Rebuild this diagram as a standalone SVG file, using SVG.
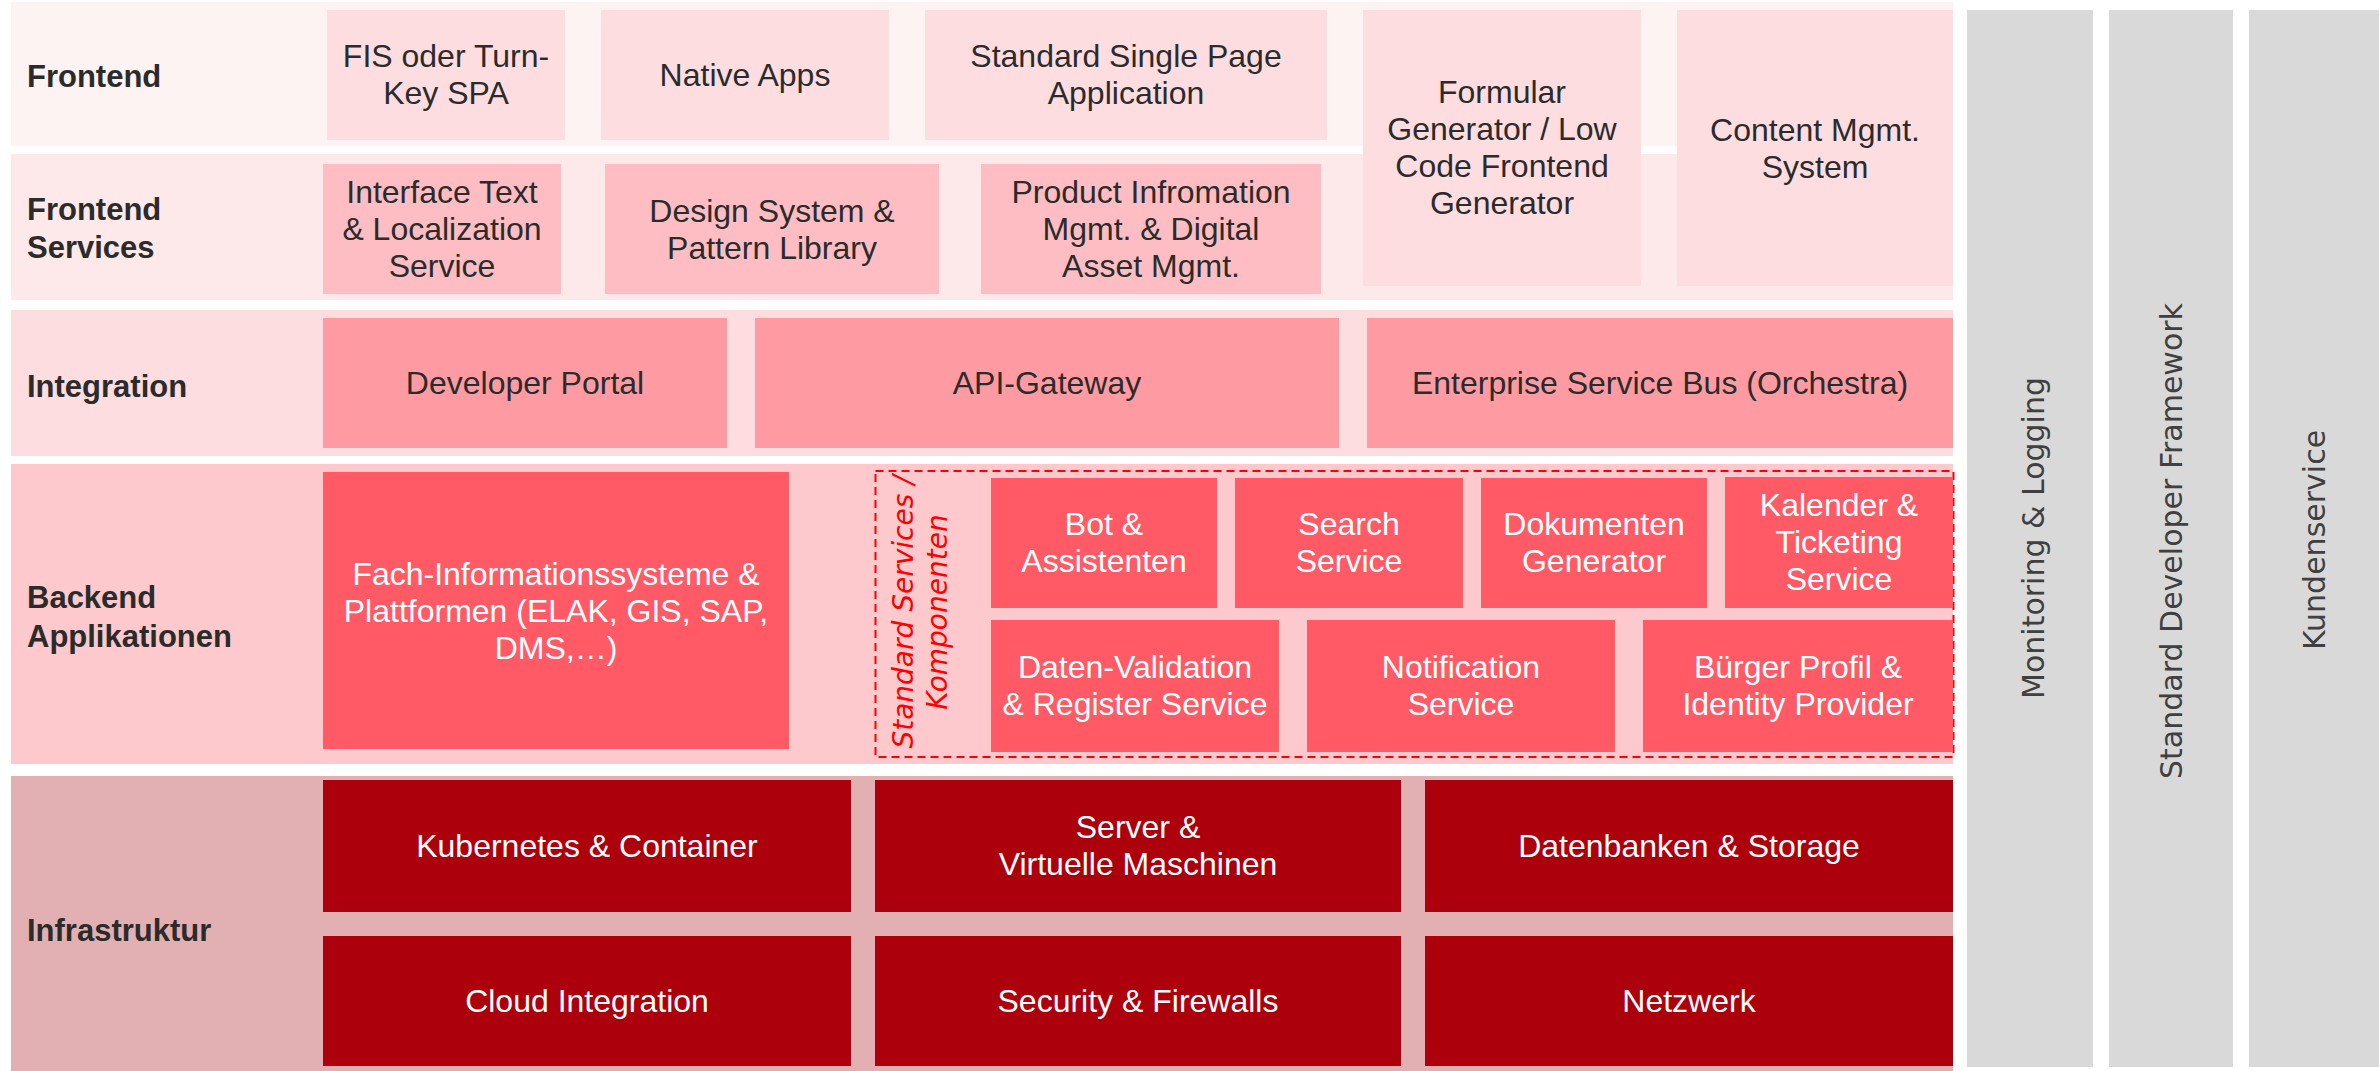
<svg xmlns="http://www.w3.org/2000/svg" width="2379" height="1071" viewBox="0 0 2379 1071">
<style>
.lbl{font-family:"Liberation Sans",Arial,sans-serif;font-weight:700;font-size:31px;fill:#2b2b2b}
.t{font-family:"Liberation Sans",Arial,sans-serif;font-size:32px;fill:#2b2b2b;text-anchor:middle}
.w{fill:#ffffff}
.g{font-family:"DejaVu Sans","Liberation Sans",sans-serif;font-size:30px;fill:#404040;text-anchor:middle}
.ss{font-family:"DejaVu Sans","Liberation Sans",sans-serif;font-style:italic;font-size:28px;fill:#ff0000;text-anchor:middle}
.fe{fill:#fddde0}.fs{fill:#fdbdc2}.in{fill:#fe9ba2}.be{fill:#ff5a66}.inf{fill:#ac000c}.gr{fill:#d9d9d9}
</style>
<rect width="2379" height="1071" fill="#ffffff"/>
<g id="bands">
<rect x="11" y="2" width="1942" height="144" fill="#fef3f3"/>
<rect x="11" y="154" width="1942" height="146" fill="#fee9ea"/>
<rect x="11" y="310" width="1942" height="146" fill="#fddde0"/>
<rect x="11" y="464" width="1942" height="300" fill="#fdc9cc"/>
<rect x="11" y="776" width="1942" height="295" fill="#e2b0b2"/>
</g>
<g id="labels">
<text class="lbl" x="27" y="87">Frontend</text>
<text class="lbl" x="27" y="220"><tspan x="27">Frontend</tspan><tspan x="27" dy="38">Services</tspan></text>
<text class="lbl" x="27" y="397">Integration</text>
<text class="lbl" x="27" y="608"><tspan x="27">Backend</tspan><tspan x="27" dy="39">Applikationen</tspan></text>
<text class="lbl" x="27" y="941">Infrastruktur</text>
</g>
<g id="fis"><rect class="fe" x="327" y="10" width="238" height="130"/><text class="t" x="446" y="67"><tspan x="446">FIS oder Turn-</tspan><tspan x="446" dy="37">Key SPA</tspan></text></g>
<g id="native"><rect class="fe" x="601" y="10" width="288" height="130"/><text class="t" x="745" y="86">Native Apps</text></g>
<g id="spa"><rect class="fe" x="925" y="10" width="402" height="130"/><text class="t" x="1126" y="67"><tspan x="1126">Standard Single Page</tspan><tspan x="1126" dy="37">Application</tspan></text></g>
<g id="formular"><rect class="fe" x="1363" y="10" width="278" height="276"/><text class="t" x="1502" y="103"><tspan x="1502">Formular</tspan><tspan x="1502" dy="37">Generator / Low</tspan><tspan x="1502" dy="37">Code Frontend</tspan><tspan x="1502" dy="37">Generator</tspan></text></g>
<g id="cms"><rect class="fe" x="1677" y="10" width="276" height="276"/><text class="t" x="1815" y="141"><tspan x="1815">Content Mgmt.</tspan><tspan x="1815" dy="37">System</tspan></text></g>
<g id="interface"><rect class="fs" x="323" y="164" width="238" height="130"/><text class="t" x="442" y="203"><tspan x="442">Interface Text</tspan><tspan x="442" dy="37">&amp; Localization</tspan><tspan x="442" dy="37">Service</tspan></text></g>
<g id="design"><rect class="fs" x="605" y="164" width="334" height="130"/><text class="t" x="772" y="222"><tspan x="772">Design System &amp;</tspan><tspan x="772" dy="37">Pattern Library</tspan></text></g>
<g id="product"><rect class="fs" x="981" y="164" width="340" height="130"/><text class="t" x="1151" y="203"><tspan x="1151">Product Infromation</tspan><tspan x="1151" dy="37">Mgmt. &amp; Digital</tspan><tspan x="1151" dy="37">Asset Mgmt.</tspan></text></g>
<g id="devportal"><rect class="in" x="323" y="318" width="404" height="130"/><text class="t" x="525" y="394">Developer Portal</text></g>
<g id="apigw"><rect class="in" x="755" y="318" width="584" height="130"/><text class="t" x="1047" y="394">API-Gateway</text></g>
<g id="esb"><rect class="in" x="1367" y="318" width="586" height="130"/><text class="t" x="1660" y="394">Enterprise Service Bus (Orchestra)</text></g>
<g id="fach"><rect class="be" x="323" y="472" width="466" height="277"/><text class="t w" x="556" y="585"><tspan x="556">Fach-Informationssysteme &amp;</tspan><tspan x="556" dy="37">Plattformen (ELAK, GIS, SAP,</tspan><tspan x="556" dy="37">DMS,…)</tspan></text></g>
<g id="stdservices"><rect x="875.5" y="471" width="1078" height="286" fill="none" stroke="#ff0000" stroke-width="2" stroke-dasharray="8 5"/><text class="ss" transform="translate(913,612) rotate(-90)"><tspan x="0">Standard Services /</tspan><tspan x="0" dy="34">Komponenten</tspan></text></g>
<g id="bot"><rect class="be" x="991" y="478" width="226" height="130"/><text class="t w" x="1104" y="535"><tspan x="1104">Bot &amp;</tspan><tspan x="1104" dy="37">Assistenten</tspan></text></g>
<g id="search"><rect class="be" x="1235" y="478" width="228" height="130"/><text class="t w" x="1349" y="535"><tspan x="1349">Search</tspan><tspan x="1349" dy="37">Service</tspan></text></g>
<g id="dokumenten"><rect class="be" x="1481" y="478" width="226" height="130"/><text class="t w" x="1594" y="535"><tspan x="1594">Dokumenten</tspan><tspan x="1594" dy="37">Generator</tspan></text></g>
<g id="kalender"><rect class="be" x="1725" y="477" width="228" height="131"/><text class="t w" x="1839" y="516"><tspan x="1839">Kalender &amp;</tspan><tspan x="1839" dy="37">Ticketing</tspan><tspan x="1839" dy="37">Service</tspan></text></g>
<g id="daten"><rect class="be" x="991" y="620" width="288" height="132"/><text class="t w" x="1135" y="678"><tspan x="1135">Daten-Validation</tspan><tspan x="1135" dy="37">&amp; Register Service</tspan></text></g>
<g id="notification"><rect class="be" x="1307" y="620" width="308" height="132"/><text class="t w" x="1461" y="678"><tspan x="1461">Notification</tspan><tspan x="1461" dy="37">Service</tspan></text></g>
<g id="buerger"><rect class="be" x="1643" y="620" width="310" height="132"/><text class="t w" x="1798" y="678"><tspan x="1798">Bürger Profil &amp;</tspan><tspan x="1798" dy="37">Identity Provider</tspan></text></g>
<g id="kubernetes"><rect class="inf" x="323" y="780" width="528" height="132"/><text class="t w" x="587" y="857">Kubernetes &amp; Container</text></g>
<g id="server"><rect class="inf" x="875" y="780" width="526" height="132"/><text class="t w" x="1138" y="838"><tspan x="1138">Server &amp;</tspan><tspan x="1138" dy="37">Virtuelle Maschinen</tspan></text></g>
<g id="datenbanken"><rect class="inf" x="1425" y="780" width="528" height="132"/><text class="t w" x="1689" y="857">Datenbanken &amp; Storage</text></g>
<g id="cloud"><rect class="inf" x="323" y="936" width="528" height="130"/><text class="t w" x="587" y="1012">Cloud Integration</text></g>
<g id="security"><rect class="inf" x="875" y="936" width="526" height="130"/><text class="t w" x="1138" y="1012">Security &amp; Firewalls</text></g>
<g id="netzwerk"><rect class="inf" x="1425" y="936" width="528" height="130"/><text class="t w" x="1689" y="1012">Netzwerk</text></g>
<g id="monitoring"><rect class="gr" x="1967" y="10" width="126" height="1057"/><text class="g" transform="translate(2044,538) rotate(-90)">Monitoring &amp; Logging</text></g>
<g id="framework"><rect class="gr" x="2109" y="10" width="124" height="1057"/><text class="g" transform="translate(2182,541) rotate(-90)">Standard Developer Framework</text></g>
<g id="kundenservice"><rect class="gr" x="2249" y="10" width="130" height="1057"/><text class="g" transform="translate(2325,540) rotate(-90)">Kundenservice</text></g>
<g id="connectors"></g>
</svg>
